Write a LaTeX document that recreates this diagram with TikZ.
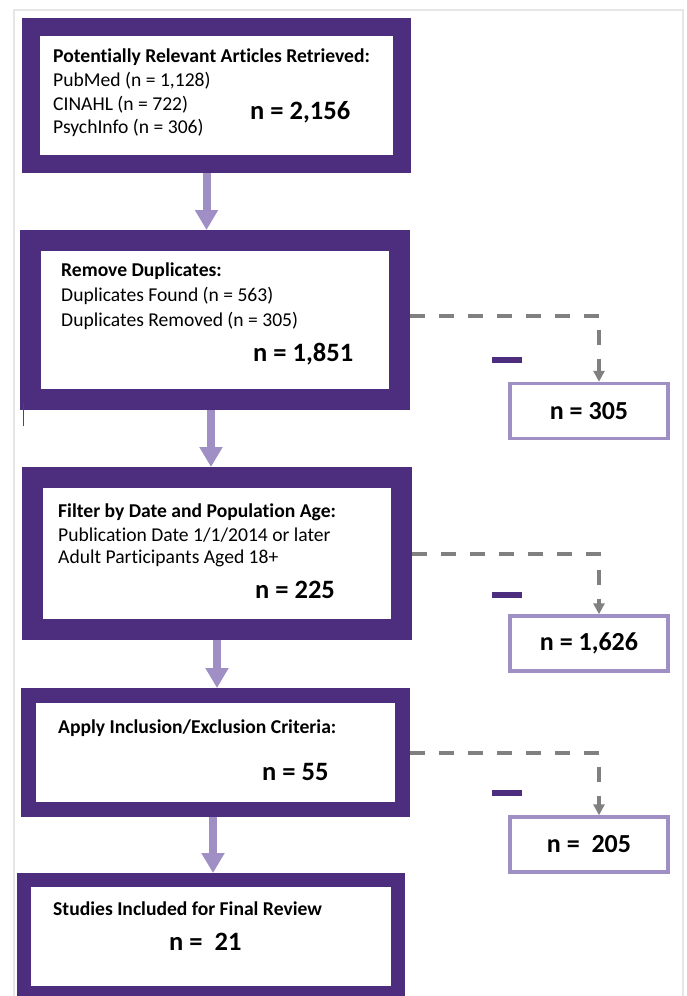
\documentclass[tikz,border=0pt]{standalone}
\usepackage{fontspec}
\setmainfont{Carlito}[Ligatures=NoCommon]
\usetikzlibrary{arrows.meta}
\definecolor{purpleD}{RGB}{76,45,126}
\definecolor{purpleL}{RGB}{160,143,196}
\definecolor{grayD}{RGB}{128,128,128}
\definecolor{frameG}{RGB}{230,230,230}
\tikzset{
    stage/.style={
        rectangle,
        draw=purpleD,
        fill=white,
        inner sep=0pt
    },
    removed/.style={
        rectangle,
        draw=purpleL,
        line width=3.5pt,
        fill=white,
        minimum width=158pt,
        minimum height=55pt,
        inner sep=0pt,
        font=\fontsize{26}{30}\selectfont\bfseries
    },
    txt/.style={
        anchor=base west,
        inner sep=0pt,
        font=\fontsize{19.6}{23}\selectfont
    },
    count/.style={
        anchor=base west,
        inner sep=0pt,
        font=\fontsize{26.5}{30}\selectfont\bfseries
    },
    flow/.style={
        draw=purpleL,
        line width=8pt,
        -{Triangle[width=22pt,length=20pt]}
    },
    excl/.style={
        draw=grayD,
        line width=4pt,
        dash pattern=on 15pt off 14pt,
        -{Triangle[width=11pt,length=11pt]}
    },
    minusbar/.style={
        rectangle,
        fill=purpleD,
        minimum width=30pt,
        minimum height=6pt,
        inner sep=0pt
    }
}

\begin{document}
\begin{tikzpicture}[x=1pt,y=-1pt]
\useasboundingbox (0,0) rectangle (686,996);
\draw[frameG, line width=1.5pt] (14,996) -- (14,10) -- (683,10) -- (683,996);

% main stages
\node[stage, line width=18pt, minimum width=371pt, minimum height=137pt] (retr) at (216.5,95.5) {};
\node[stage, line width=21pt, minimum width=369pt, minimum height=159pt] (dedup) at (215,320) {};
\node[stage, line width=21pt, minimum width=369pt, minimum height=152pt] (filt) at (217,553.5) {};
\node[stage, line width=15pt, minimum width=374pt, minimum height=114pt] (crit) at (215.5,752.5) {};
\node[stage, line width=14pt, minimum width=374pt, minimum height=113pt] (final) at (211,936.5) {};

% texts
\node[txt] (retrT) at (53,62.7) {\textbf{Potentially Relevant Articles Retrieved:}};
\node[txt] (retrA) at (53,86) {PubMed (n = 1,128)};
\node[txt] (retrB) at (53,110) {CINAHL (n = 722)};
\node[txt] (retrC) at (53,133) {PsychInfo (n = 306)};
\node[count] (retrN) at (250,119.3) {n = 2,156};

\node[txt] (dedupT) at (61,276.7) {\textbf{Remove Duplicates:}};
\node[txt] (dedupA) at (61,301.7) {Duplicates Found (n = 563)};
\node[txt] (dedupB) at (61,326) {Duplicates Removed (n = 305)};
\node[count] (dedupN) at (253,361.7) {n = 1,851};

\node[txt] (filtT) at (58,517) {\textbf{Filter by Date and Population Age:}};
\node[txt] (filtA) at (58,541.7) {Publication Date 1/1/2014 or later};
\node[txt] (filtB) at (58,563) {Adult Participants Aged 18+};
\node[count] (filtN) at (255,598) {n = 225};

\node[txt] (critT) at (58,733) {\textbf{Apply Inclusion/Exclusion Criteria:}};
\node[count] (critN) at (262,780.7) {n = 55};

\node[txt] (finalT) at (53,915) {\textbf{Studies Included for Final Review}};
\node[count] (finalN) at (169,950.7) {n = \ 21};

% removed records
\node[removed] (dup) at (589,411) {n = 305};
\node[removed] (old) at (589,643.5) {n = 1,626};
\node[removed] (excl) at (589,844.5) {n = \ 205};
\node[minusbar] (m1) at (507,359.7) {};
\node[minusbar] (m2) at (507,595) {};
\node[minusbar] (m3) at (507,793) {};

% connectors
\draw[flow] ([xshift=-10pt]retr.south) -- ([xshift=-10pt]retr.south |- dedup.north);
\draw[flow] ([xshift=-4pt]dedup.south) -- ([xshift=-4pt]dedup.south |- filt.north);
\draw[flow] (filt.south) -- (filt.south |- crit.north);
\draw[flow] ([xshift=-2.5pt]crit.south) -- ([xshift=-2.5pt]crit.south |- final.north);
\draw[excl] ([yshift=4.3pt]dedup.east) -| ([xshift=10pt]dup.north);
\draw[excl] (filt.east) -| ([xshift=10pt]old.north);
\draw[excl] (crit.east) -| ([xshift=10pt]excl.north);

\draw[black!70, line width=1pt] (23,403) -- (23,426);
\end{tikzpicture}
\end{document}
